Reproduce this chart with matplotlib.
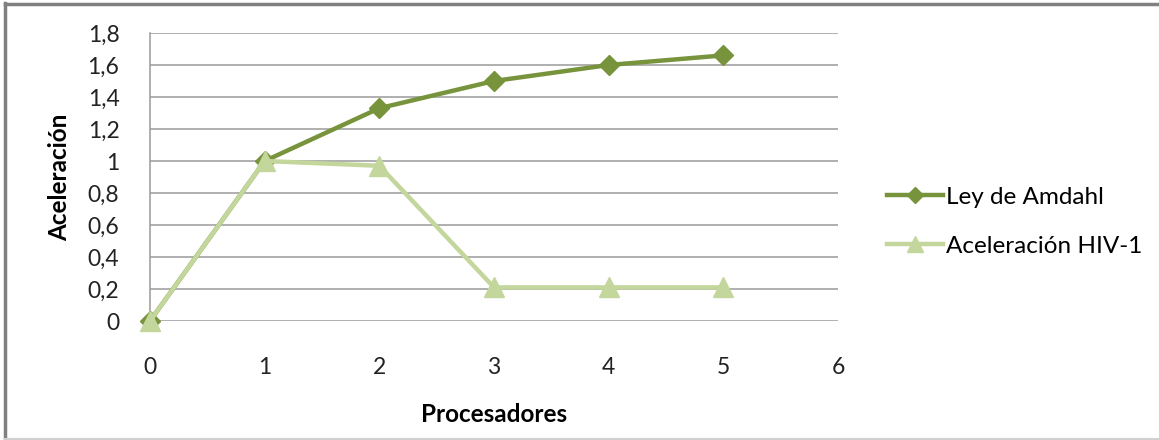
import matplotlib
matplotlib.use("Agg")
import matplotlib.pyplot as plt
from matplotlib.lines import Line2D

# Speed-up data
procesadores = [0, 1, 2, 3, 4, 5]
ley_amdahl = [0, 1.0, 1.33, 1.5, 1.6, 1.66]
aceleracion_hiv = [0, 1.0, 0.97, 0.21, 0.21, 0.21]
y_ticks = [0, 0.2, 0.4, 0.6, 0.8, 1.0, 1.2, 1.4, 1.6, 1.8]
y_tick_labels = ["0", "0,2", "0,4", "0,6", "0,8", "1", "1,2", "1,4", "1,6", "1,8"]
x_ticks = [0, 1, 2, 3, 4, 5, 6]

plt.rcParams["font.family"] = ["Lato", "DejaVu Sans"]

W, H = 1159, 440
fig = plt.figure(figsize=(W / 100, H / 100), dpi=100)
ax = fig.add_axes([150 / W, 1 - 321 / H, (838 - 150) / W, (321 - 33) / H])

dark = "#77933C"
light = "#C3D69B"

ax.plot(procesadores, ley_amdahl, color=dark, lw=3.2, marker="D", markersize=10,
        label="Ley de Amdahl", zorder=3, solid_joinstyle="round", clip_on=False)
ax.plot(procesadores, aceleracion_hiv, color=light, lw=3.2, marker="^", markersize=14,
        label="Aceleración HIV-1", zorder=4, solid_joinstyle="round", clip_on=False)

ax.set_xlim(0, 6)
ax.set_ylim(0, 1.8)
ax.set_xticks(x_ticks)
ax.set_yticks(y_ticks)
ax.set_yticklabels(y_tick_labels)
ax.tick_params(axis="both", length=0, labelsize=16.5, colors="#222222")
ax.tick_params(axis="y", pad=22)
ax.tick_params(axis="x", pad=26)

ax.grid(axis="y", color="#9a9a9a", lw=1.1)
ax.set_axisbelow(True)
for s in ["top", "right", "bottom"]:
    ax.spines[s].set_visible(False)
ax.spines["left"].set_color("#9a9a9a")
ax.spines["left"].set_linewidth(1.1)

ax.set_xlabel("Procesadores", fontsize=17.5, fontweight="bold", labelpad=18)
ax.set_ylabel("Aceleración", fontsize=17.5, fontweight="bold", labelpad=12)

leg = fig.legend(loc="upper left", bbox_to_anchor=(877 / W, 1 - 177 / H),
                 frameon=False, fontsize=17.5, handlelength=2.3, handletextpad=0.12,
                 labelspacing=1.15, markerscale=0.8, borderaxespad=0)

# Outer frame of the chart area
fig.add_artist(Line2D([5 / W, 5 / W], [0, 1 - 3 / H], transform=fig.transFigure,
                      color="#808080", lw=2.5))
fig.add_artist(Line2D([5 / W, 1], [1 - 4 / H, 1 - 4 / H], transform=fig.transFigure,
                      color="#808080", lw=2.5))
fig.add_artist(Line2D([5 / W, 1], [1.5 / H, 1.5 / H], transform=fig.transFigure,
                      color="#d0d0d0", lw=1.5))

fig.savefig("out.png", dpi=100)
